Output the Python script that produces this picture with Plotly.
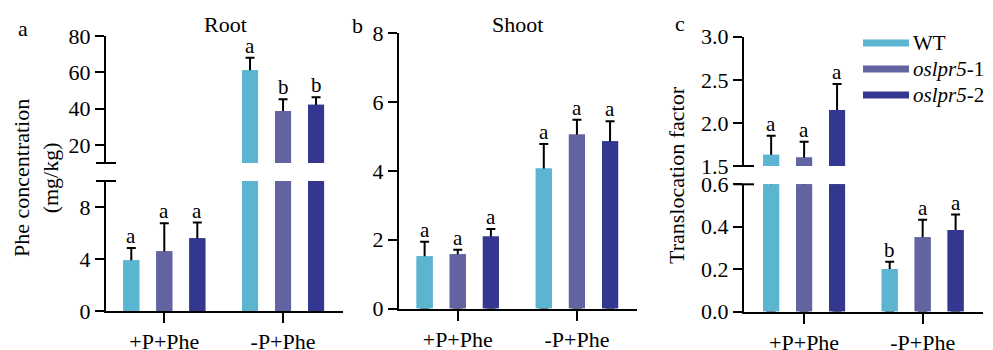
import plotly.graph_objects as go

# ---------------- data ----------------
categories = ["+P+Phe", "-P+Phe"]
genotype_labels = ["WT", "<i>oslpr5</i>-1", "<i>oslpr5</i>-2"]
colors = ["#5BB5D1", "#6264A1", "#343790"]

# Root Phe concentration (mg/kg) [+P+Phe, -P+Phe]
root_wt = [3.9, 61.1]
root_wt_err = [0.95, 6.9]
root_l1 = [4.6, 38.7]
root_l1_err = [2.15, 6.4]
root_l2 = [5.6, 42.1]
root_l2_err = [1.2, 4.1]
root_letters = [["a", "a"], ["a", "b"], ["a", "b"]]

# Shoot Phe concentration (mg/kg)
shoot_wt = [1.52, 4.07]
shoot_wt_err = [0.42, 0.71]
shoot_l1 = [1.58, 5.06]
shoot_l1_err = [0.13, 0.43]
shoot_l2 = [2.09, 4.86]
shoot_l2_err = [0.22, 0.58]
shoot_letters = [["a", "a"], ["a", "a"], ["a", "a"]]

# Translocation factor
tf_wt = [1.63, 0.20]
tf_wt_err = [0.22, 0.035]
tf_l1 = [1.60, 0.35]
tf_l1_err = [0.18, 0.083]
tf_l2 = [2.15, 0.385]
tf_l2_err = [0.30, 0.072]
tf_letters = [["a", "b"], ["a", "a"], ["a", "a"]]

root_ticks_low = [0, 4, 8]
root_ticks_high = [20, 40, 60, 80]
shoot_ticks = [0, 2, 4, 6, 8]
tf_ticks_low = [0.0, 0.2, 0.4, 0.6]
tf_ticks_high = [1.5, 2.0, 2.5, 3.0]

# ---------------- style ----------------
PAGE_MARGIN = 8          # default body margin of the html page
W, H = 993 - PAGE_MARGIN, 350 - PAGE_MARGIN
FONT = "Liberation Serif"
BARGAP = 0.166
BARGROUPGAP = 0.514
SLOT = (1 - BARGAP) / 3


def px_x(p):
    return (p - PAGE_MARGIN) / W


def px_y(p):
    return 1 - (p - PAGE_MARGIN) / H


fig = go.Figure()

panels = [
    dict(x="x", means=[root_wt, root_l1, root_l2], errs=[root_wt_err, root_l1_err, root_l2_err],
         letters=root_letters,
         segs=[("y", [0, 10]), ("y2", [10, 80])]),
    dict(x="x2", means=[shoot_wt, shoot_l1, shoot_l2], errs=[shoot_wt_err, shoot_l1_err, shoot_l2_err],
         letters=shoot_letters,
         segs=[("y3", [0, 8])]),
    dict(x="x3", means=[tf_wt, tf_l1, tf_l2], errs=[tf_wt_err, tf_l1_err, tf_l2_err],
         letters=tf_letters,
         segs=[("y4", [0, 0.6]), ("y5", [1.5, 3.0])]),
]

annotations = []
for p in panels:
    for ya, rng in p["segs"]:
        for j in range(3):
            common = dict(x=categories, y=p["means"][j], xaxis=p["x"], yaxis=ya,
                          offsetgroup=str(j), marker=dict(color=colors[j], line=dict(width=0)),
                          showlegend=False, hoverinfo="skip")
            # bar carrying the error bar (stem starts at 0, hidden under the covering bar)
            fig.add_trace(go.Bar(**common, error_y=dict(type="data", symmetric=False,
                                                        array=p["errs"][j], arrayminus=p["means"][j],
                                                        color="black", thickness=2, width=4.5)))
            # covering bar
            fig.add_trace(go.Bar(**common))
    # significance letters
    for j in range(3):
        for i in range(len(categories)):
            top = p["means"][j][i] + p["errs"][j][i]
            yref = None
            for ya, rng in p["segs"]:
                if rng[0] <= top <= rng[1]:
                    yref = ya
            annotations.append(dict(x=i + (j - 1) * SLOT, y=top, xref=p["x"], yref=yref,
                                    text=p["letters"][j][i], showarrow=False, yanchor="bottom",
                                    yshift=-2, font=dict(family=FONT, size=21, color="black")))

axis_common = dict(showline=True, linecolor="black", linewidth=2, ticks="outside",
                   ticklen=9, tickwidth=2, tickcolor="black", showgrid=False, zeroline=False,
                   automargin=False,
                   tickfont=dict(family=FONT, size=22, color="black"), fixedrange=True)
xaxis_common = dict(axis_common, type="category", categoryorder="array", categoryarray=categories,
                    ticklen=10)

fig.update_layout(
    xaxis=dict(xaxis_common, domain=[px_x(106), px_x(343)], anchor="y", range=[-0.491, 1.505]),
    yaxis=dict(axis_common, domain=[px_y(311), px_y(181)], anchor="x", range=[0, 10],
               tickvals=root_ticks_low),
    yaxis2=dict(axis_common, domain=[px_y(163), px_y(36)], anchor="x", range=[10, 80],
                tickvals=root_ticks_high),
    xaxis2=dict(xaxis_common, domain=[px_x(399), px_x(637)], anchor="y3", range=[-0.493, 1.504]),
    yaxis3=dict(axis_common, domain=[px_y(308.5), px_y(33.3)], anchor="x2", range=[0, 8],
                tickvals=shoot_ticks),
    xaxis3=dict(xaxis_common, domain=[px_x(744), px_x(983)], anchor="y4", range=[-0.507, 1.509]),
    yaxis4=dict(axis_common, domain=[px_y(311.5), px_y(184.3)], anchor="x3", range=[0, 0.6],
                tickvals=tf_ticks_low, tickformat=".1f"),
    yaxis5=dict(axis_common, domain=[px_y(166), px_y(36.7)], anchor="x3", range=[1.5, 3.0],
                tickvals=tf_ticks_high, tickformat=".1f"),
)

# broken-axis marks
shapes = []
for yref, yd in [("y", 1), ("y2", 0), ("y4", 1), ("y5", 0)]:
    xref = "x" if yref in ("y", "y2") else "x3"
    shapes.append(dict(type="line", xref=xref + " domain", yref=yref + " domain",
                       xsizemode="pixel", xanchor=0, x0=-10, x1=10, y0=yd, y1=yd,
                       line=dict(color="black", width=2)))

# legend (manual)
legend_rows = [43, 69, 95]
for j in range(3):
    shapes.append(dict(type="rect", xref="paper", yref="paper",
                       x0=px_x(863), x1=px_x(909), y0=px_y(legend_rows[j] + 3.5),
                       y1=px_y(legend_rows[j] - 3.5), fillcolor=colors[j], line=dict(width=0)))
    annotations.append(dict(x=px_x(911), y=px_y(legend_rows[j]), xref="paper", yref="paper",
                            text=genotype_labels[j], showarrow=False, xanchor="left",
                            yanchor="middle", font=dict(family=FONT, size=21, color="black")))

# titles, panel letters, axis titles
def txt(x, y, s, size=22, angle=0):
    annotations.append(dict(x=px_x(x), y=px_y(y), xref="paper", yref="paper", text=s,
                            showarrow=False, xanchor="center", yanchor="middle", textangle=angle,
                            font=dict(family=FONT, size=size, color="black")))

txt(225, 24, "Root")
txt(517, 24, "Shoot")
txt(23, 29, "a")
txt(357, 26, "b")
txt(680, 23, "c")
txt(36, 178, "Phe concentration<br>(mg/kg)", angle=-90)
txt(676, 175, "Translocation factor", angle=-90)

fig.update_layout(
    width=W, height=H, margin=dict(l=0, r=0, t=0, b=0, autoexpand=False),
    paper_bgcolor="white", plot_bgcolor="white",
    barmode="group", bargap=BARGAP, bargroupgap=BARGROUPGAP,
    showlegend=False, annotations=annotations, shapes=shapes,
    font=dict(family=FONT, color="black"),
)

fig.write_html("out.html")
